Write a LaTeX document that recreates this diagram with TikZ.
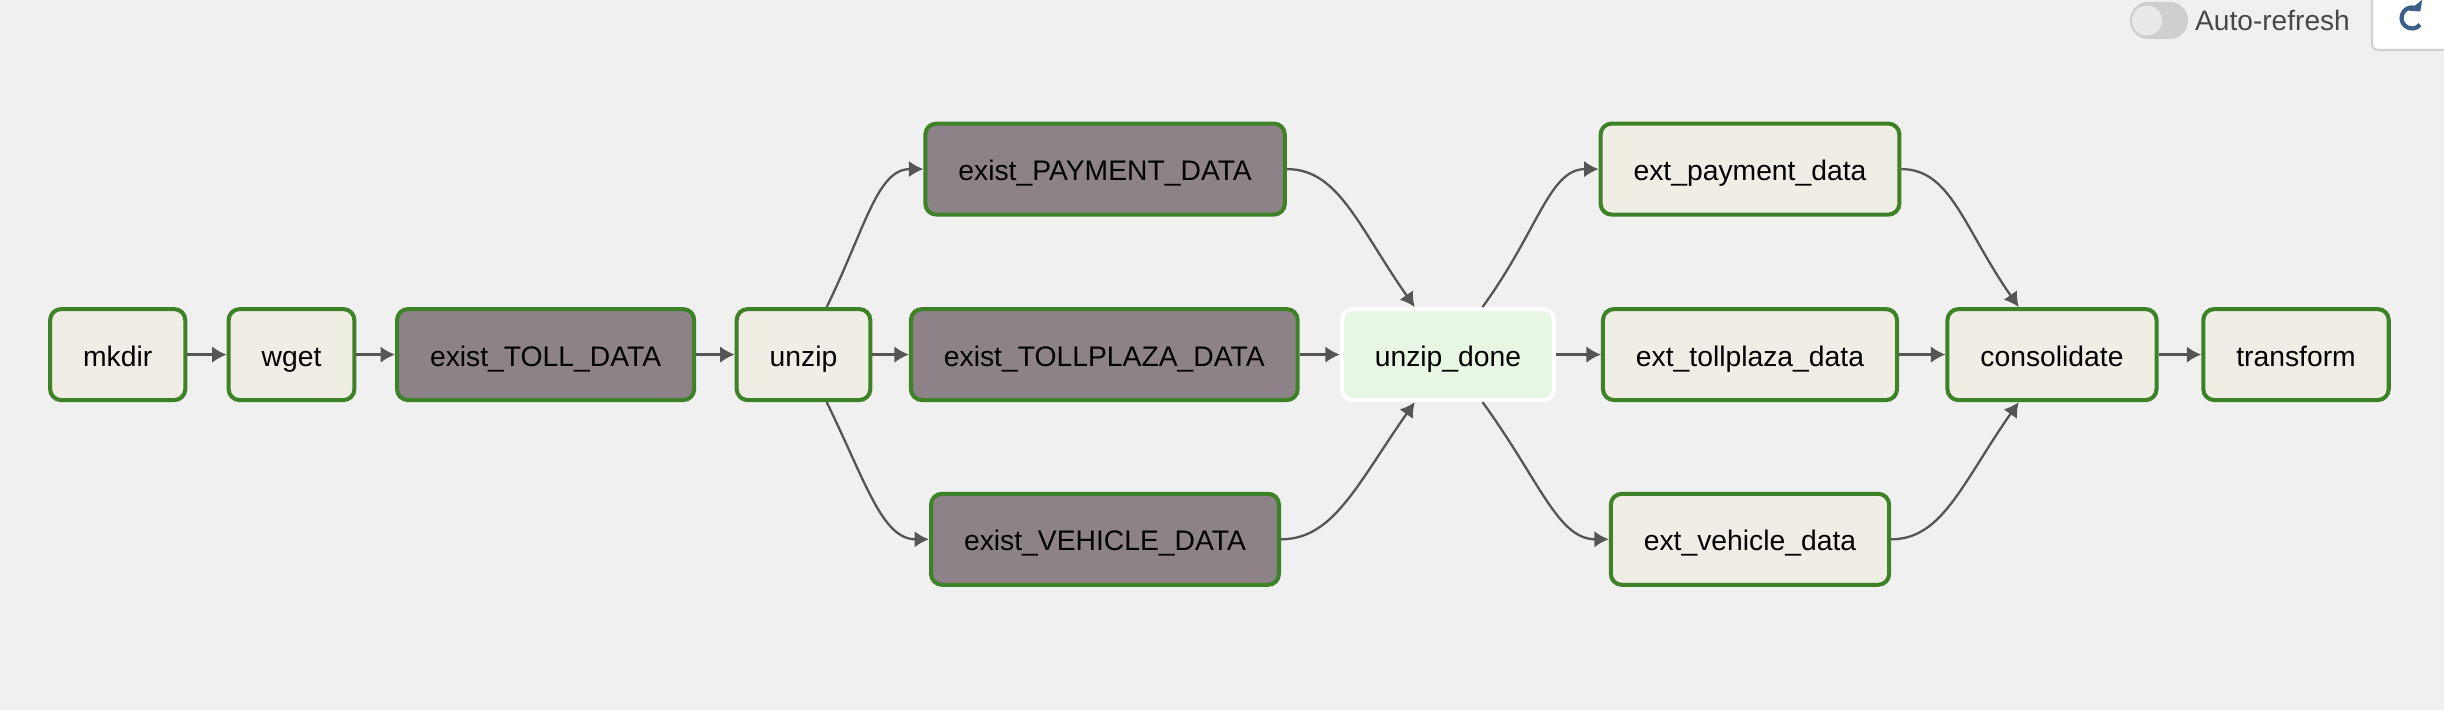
\documentclass[tikz,border=0pt]{standalone}
\usepackage{fontspec}
\setmainfont{Liberation Sans}
\usepackage{tikz}
\usetikzlibrary{arrows.meta}
\definecolor{pagegray}{HTML}{F0F0F0}
\definecolor{taskbeige}{HTML}{F0EDE4}
\definecolor{sensorgray}{HTML}{8C8288}
\definecolor{dummygreen}{HTML}{E8F7E4}
\definecolor{okgreen}{HTML}{3E8227}
\definecolor{edgegray}{HTML}{555555}
\definecolor{iconblue}{HTML}{3B5F8A}
\colorlet{togglegray}{black!19}
\colorlet{knobgray}{black!9}
\colorlet{btnborder}{black!18}
\colorlet{labelgray}{black!72}

\begin{document}
\begin{tikzpicture}[
        task/.style={rectangle, rounded corners=0.11cm, draw=okgreen, line width=1.15pt, fill=taskbeige,
            minimum height=0.91cm, inner xsep=0.33cm, text height=0.28cm, text depth=0.05cm,
            font=\fontsize{8.05}{9.6}\selectfont},
        sensor/.style={task, fill=sensorgray},
        dummy/.style={task, fill=dummygreen, draw=white},
        edge/.style={draw=edgegray, line width=0.65pt, -{Latex[length=0.145cm, width=0.165cm]}},
        spread/.style={out looseness=1.35, in looseness=0.7},
        gather/.style={out looseness=0.7, in looseness=1.35}
    ]
        \useasboundingbox (0,0) rectangle (24.44,7.10);
        \fill[pagegray] (0,0) rectangle (24.44,7.10);

        \node[task] (mkdir) at (1.177,3.554) {mkdir};
        \node[task] (wget) at (2.915,3.554) {wget};
        \node[sensor] (tolldata) at (5.456,3.554) {exist\_TOLL\_DATA};
        \node[task] (unzip) at (8.035,3.554) {unzip};
        \node[sensor] (payment) at (11.051,5.409) {exist\_PAYMENT\_DATA};
        \node[sensor] (tollplaza) at (11.043,3.554) {exist\_TOLLPLAZA\_DATA};
        \node[sensor] (vehicle) at (11.05,1.707) {exist\_VEHICLE\_DATA};
        \node[dummy] (unzipdone) at (14.48,3.554) {unzip\_done};
        \node[task] (extpayment) at (17.50,5.409) {ext\_payment\_data};
        \node[task] (exttollplaza) at (17.50,3.554) {ext\_tollplaza\_data};
        \node[task] (extvehicle) at (17.50,1.707) {ext\_vehicle\_data};
        \node[task] (consolidate) at (20.52,3.554) {consolidate};
        \node[task] (transform) at (22.96,3.554) {transform};

        \foreach \a/\b in {mkdir/wget, wget/tolldata, tolldata/unzip, unzip/tollplaza,
            tollplaza/unzipdone, unzipdone/exttollplaza, exttollplaza/consolidate, consolidate/transform}{
            \draw[edge] (\a) -- (\b);
        }
        \draw[edge] (unzip) to[out=64, in=180, spread] (payment);
        \draw[edge] (unzip) to[out=-64, in=180, spread] (vehicle);
        \draw[edge] (payment) to[out=0, in=125, gather] (unzipdone);
        \draw[edge] (vehicle) to[out=0, in=-125, gather] (unzipdone);
        \draw[edge] (unzipdone) to[out=54, in=180, spread] (extpayment);
        \draw[edge] (unzipdone) to[out=-54, in=180, spread] (extvehicle);
        \draw[edge] (extpayment) to[out=0, in=125, gather] (consolidate);
        \draw[edge] (extvehicle) to[out=0, in=-125, gather] (consolidate);

        \fill[togglegray, rounded corners=0.18cm] (21.30,6.71) rectangle (21.88,7.08);
        \fill[knobgray] (21.47,6.895) circle (0.15);
        \node[text=labelgray, font=\fontsize{8}{9.6}\selectfont, inner sep=0pt] (autorefresh) at (22.725,6.90) {Auto-refresh};
        \draw[btnborder, fill=white, line width=0.6pt] (24.60,7.20) -- (23.72,7.20) -- (23.72,6.66)
            arc (180:270:0.06) -- (24.60,6.60);
        \draw[iconblue, line width=1.2pt, -{Triangle[length=0.08cm, width=0.17cm]}] (24.12,6.92) ++(-40:0.105)
            arc (-40:-322:0.105);
    \end{tikzpicture}
\end{document}
